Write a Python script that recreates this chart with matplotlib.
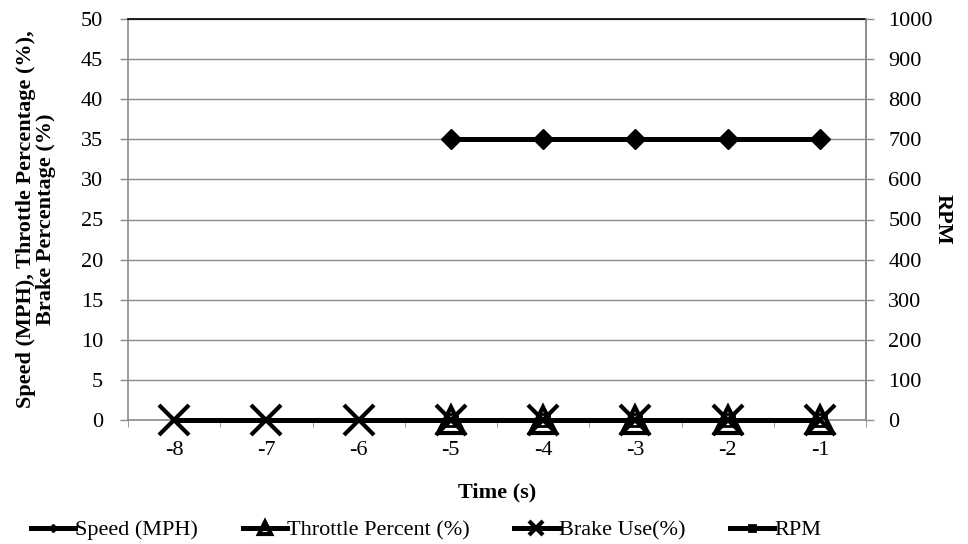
import numpy as np
import matplotlib.pyplot as plt

plt.rcParams['font.family'] = ['Liberation Serif', 'DejaVu Serif']

times = [-8, -7, -6, -5, -4, -3, -2, -1]
speed = [np.nan, np.nan, np.nan, 35, 35, 35, 35, 35]
throttle = [np.nan, np.nan, np.nan, 0, 0, 0, 0, 0]
brake = [0, 0, 0, 0, 0, 0, 0, 0]
rpm = [np.nan, np.nan, np.nan, 0, 0, 0, 0, 0]

x = np.arange(len(times))

fig = plt.figure(figsize=(9.68, 5.44), dpi=100)
ax = fig.add_axes([128/968, 1 - 420/544, 738/968, 401/544])
ax2 = ax.twinx()

fs = 16
lw = 3.6
grey = '#8c8c8c'

ln_speed, = ax.plot(x, speed, color='black', lw=lw, marker='D', ms=10,
                    zorder=5, clip_on=False)
ln_thr, = ax.plot(x, throttle, color='black', lw=lw, marker='^', ms=19,
                  mfc='none', mew=3, zorder=4, clip_on=False)
ln_brk, = ax.plot(x, brake, color='black', lw=lw, marker='x', ms=21, mew=3,
                  zorder=4, clip_on=False)
ln_rpm, = ax2.plot(x, rpm, color='black', lw=lw, marker='s', ms=9,
                   mfc='none', mew=2, zorder=3, clip_on=False)

ax.set_xlim(-0.5, len(times) - 0.5)
ax.set_ylim(0, 50)
ax2.set_ylim(0, 1000)
ax.set_yticks(np.arange(0, 51, 5))
ax2.set_yticks(np.arange(0, 1001, 100))
ax.set_xticks(x)
ax.set_xticklabels([str(t) for t in times])
ax.set_xticks(np.arange(-0.5, len(times), 1), minor=True)

ax.grid(axis='y', color=grey, lw=1.0)
ax.set_axisbelow(True)
ax.tick_params(axis='x', which='major', length=0, labelsize=fs, pad=15)
ax.tick_params(axis='x', which='minor', length=5, color=grey, direction='out')
ax.tick_params(axis='y', length=6, width=1, color=grey, labelsize=fs, pad=12)
ax2.tick_params(axis='y', length=6, width=1, color=grey, labelsize=fs, pad=10)

for side in ('left', 'right', 'bottom'):
    ax.spines[side].set_color(grey)
    ax.spines[side].set_linewidth(1.2)
ax.spines['top'].set_color('black')
ax.spines['top'].set_linewidth(1.2)
ax2.spines['right'].set_color(grey)
ax2.spines['right'].set_linewidth(1.2)
for side in ('left', 'top', 'bottom'):
    ax2.spines[side].set_visible(False)

ax.set_xlabel('Time (s)', fontsize=fs, fontweight='bold', labelpad=16)
ax.set_ylabel('Speed (MPH), Throttle Percentage (%),\nBrake Percentage (%)',
              fontsize=fs, fontweight='bold', labelpad=18, linespacing=1.0)
ax2.set_ylabel('RPM', fontsize=fs, fontweight='bold', rotation=-90, labelpad=14)

fig.legend([ln_speed, ln_thr, ln_brk, ln_rpm],
           ['Speed (MPH)', 'Throttle Percent (%)', 'Brake Use(%)', 'RPM'],
           loc='lower center', bbox_to_anchor=(0.44, -0.03), ncol=4, frameon=False,
           fontsize=fs, handlelength=2.0, handletextpad=0.0, columnspacing=2.0,
           markerscale=0.45)

fig.savefig('out.png', dpi=100)
